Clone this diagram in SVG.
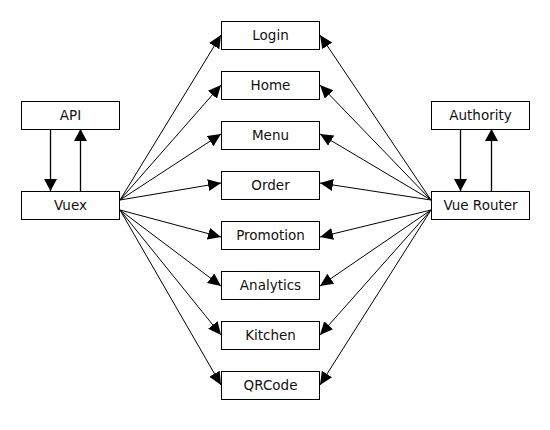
<svg xmlns="http://www.w3.org/2000/svg" width="550" height="430" viewBox="0 0 550 430">
<style>
.box{fill:#fff;stroke:#000;stroke-width:1}
.lbl{font-family:"DejaVu Sans",sans-serif;font-size:13.5px;fill:#111;text-anchor:middle}
.ln{stroke:#000;stroke-width:1;fill:none;marker-end:url(#ah)}
.lv{stroke:#000;stroke-width:1.3;fill:none;marker-end:url(#ahb)}
</style>
<defs>
<marker id="ah" markerUnits="userSpaceOnUse" markerWidth="14" markerHeight="13" refX="13" refY="6" orient="auto" viewBox="0 0 14 13">
<path d="M0,0 L13,6 L0,12 z" fill="#000"/>
</marker>
<marker id="ahb" markerUnits="userSpaceOnUse" markerWidth="13" markerHeight="14" refX="12" refY="6.5" orient="auto" viewBox="0 0 13 14">
<path d="M0,0 L12,6.5 L0,13 z" fill="#000"/>
</marker>
</defs>
<rect width="550" height="430" fill="#fff"/>
<g id="connectors">
<line class="lv" x1="50.5" y1="129" x2="50.5" y2="191"/>
<line class="lv" x1="80.5" y1="191" x2="80.5" y2="129"/>
<line class="lv" x1="460.5" y1="129" x2="460.5" y2="191"/>
<line class="lv" x1="491.5" y1="191" x2="491.5" y2="129"/>
<line class="ln" x1="120" y1="200" x2="221" y2="35"/>
<line class="ln" x1="120" y1="200" x2="221" y2="85"/>
<line class="ln" x1="120" y1="200" x2="221" y2="134"/>
<line class="ln" x1="120" y1="200" x2="221" y2="183"/>
<line class="ln" x1="120" y1="210" x2="221" y2="237"/>
<line class="ln" x1="120" y1="210" x2="221" y2="286"/>
<line class="ln" x1="120" y1="210" x2="221" y2="335"/>
<line class="ln" x1="120" y1="210" x2="221" y2="385"/>
<line class="ln" x1="431" y1="200" x2="320" y2="35"/>
<line class="ln" x1="431" y1="200" x2="320" y2="85"/>
<line class="ln" x1="431" y1="200" x2="320" y2="134"/>
<line class="ln" x1="431" y1="200" x2="320" y2="183"/>
<line class="ln" x1="431" y1="210" x2="320" y2="237"/>
<line class="ln" x1="431" y1="210" x2="320" y2="286"/>
<line class="ln" x1="431" y1="210" x2="320" y2="335"/>
<line class="ln" x1="431" y1="210" x2="320" y2="385"/>
</g>
<g id="api"><rect class="box" x="21.5" y="101.5" width="98" height="28"/><text class="lbl" x="70.5" y="119.5">API</text></g>
<g id="vuex"><rect class="box" x="21.5" y="191.5" width="98" height="28"/><text class="lbl" x="70.5" y="209.5">Vuex</text></g>
<g id="authority"><rect class="box" x="431.5" y="101.5" width="98" height="28"/><text class="lbl" x="480.5" y="119.5">Authority</text></g>
<g id="vuerouter"><rect class="box" x="431.5" y="191.5" width="98" height="28"/><text class="lbl" x="480.5" y="209.5">Vue Router</text></g>
<g id="login"><rect class="box" x="221.5" y="21.5" width="98" height="28"/><text class="lbl" x="270.5" y="39.5">Login</text></g>
<g id="home"><rect class="box" x="221.5" y="71.5" width="98" height="28"/><text class="lbl" x="270.5" y="89.5">Home</text></g>
<g id="menu"><rect class="box" x="221.5" y="121.5" width="98" height="28"/><text class="lbl" x="270.5" y="139.5">Menu</text></g>
<g id="order"><rect class="box" x="221.5" y="171.5" width="98" height="28"/><text class="lbl" x="270.5" y="189.5">Order</text></g>
<g id="promotion"><rect class="box" x="221.5" y="221.5" width="98" height="28"/><text class="lbl" x="270.5" y="239.5">Promotion</text></g>
<g id="analytics"><rect class="box" x="221.5" y="271.5" width="98" height="28"/><text class="lbl" x="270.5" y="289.5">Analytics</text></g>
<g id="kitchen"><rect class="box" x="221.5" y="321.5" width="98" height="28"/><text class="lbl" x="270.5" y="339.5">Kitchen</text></g>
<g id="qrcode"><rect class="box" x="221.5" y="371.5" width="98" height="28"/><text class="lbl" x="270.5" y="389.5">QRCode</text></g>
</svg>
